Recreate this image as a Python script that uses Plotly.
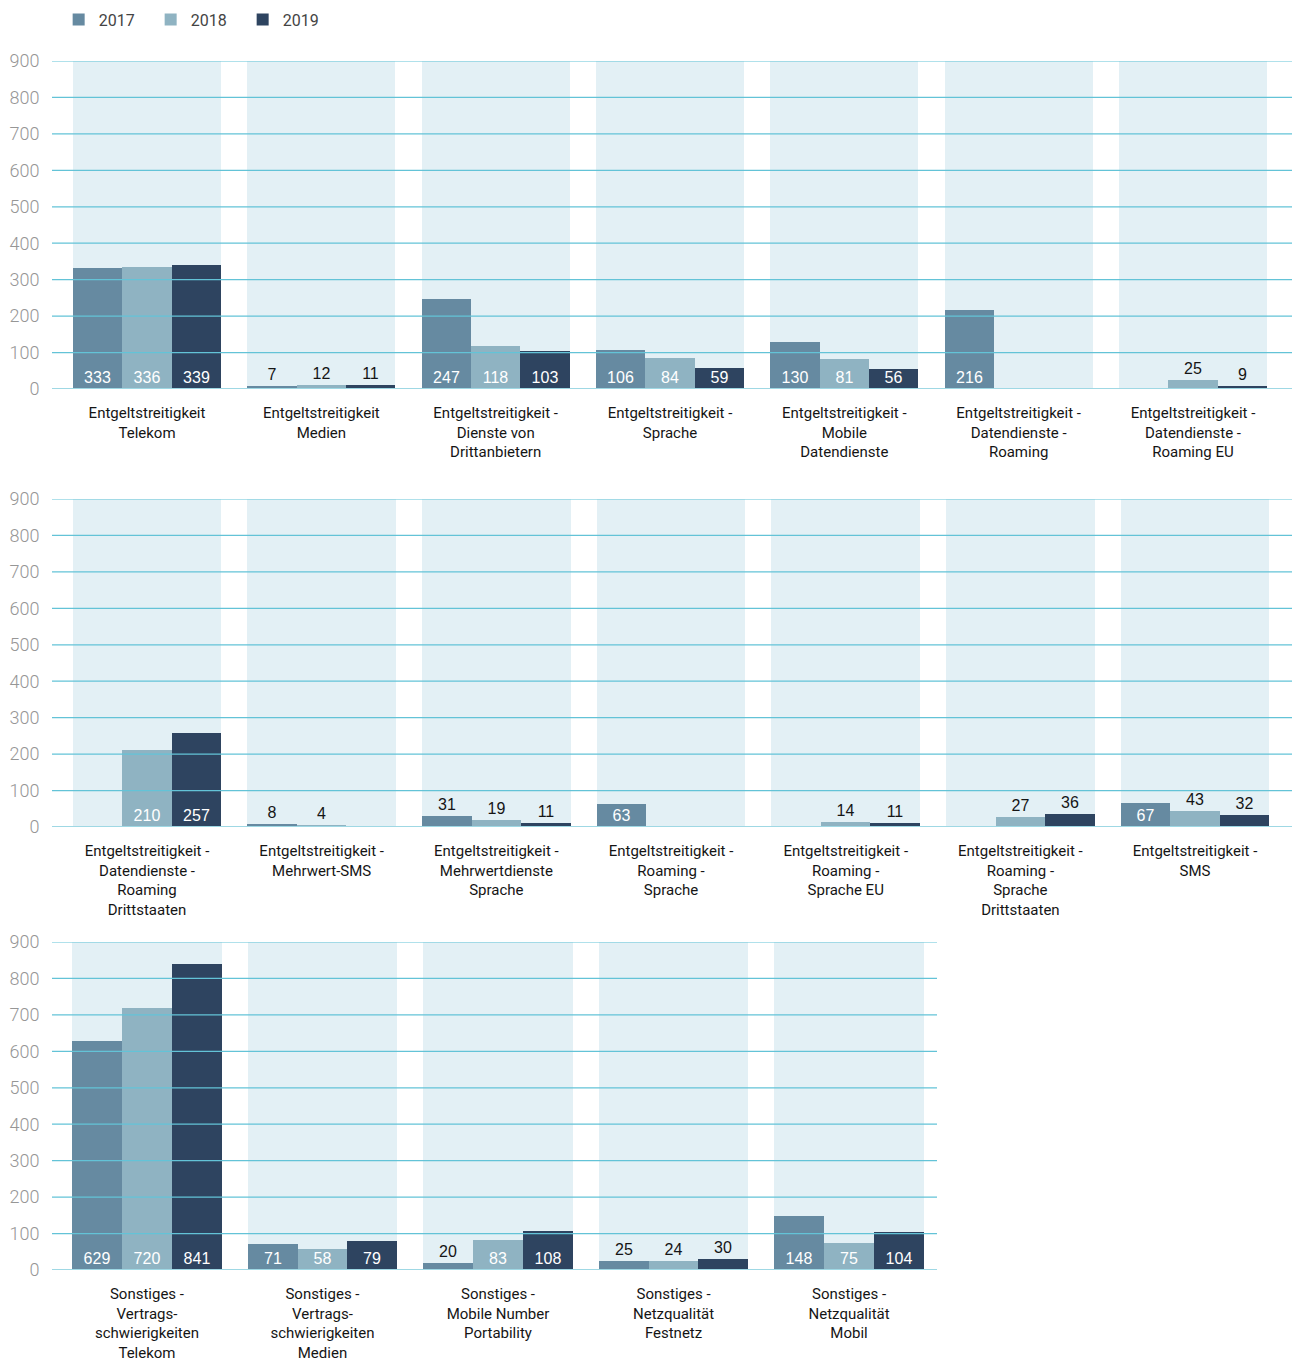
import plotly.graph_objects as go

# ---------------- data ----------------
YEARS = ["2017", "2018", "2019"]

ROW1_LABELS = [
    "Entgeltstreitigkeit<br>Telekom",
    "Entgeltstreitigkeit<br>Medien",
    "Entgeltstreitigkeit -<br>Dienste von<br>Drittanbietern",
    "Entgeltstreitigkeit -<br>Sprache",
    "Entgeltstreitigkeit -<br>Mobile<br>Datendienste",
    "Entgeltstreitigkeit -<br>Datendienste -<br>Roaming",
    "Entgeltstreitigkeit -<br>Datendienste -<br>Roaming EU",
]
ROW1_2017 = [333, 7, 247, 106, 130, 216, None]
ROW1_2018 = [336, 12, 118, 84, 81, None, 25]
ROW1_2019 = [339, 11, 103, 59, 56, None, 9]

ROW2_LABELS = [
    "Entgeltstreitigkeit -<br>Datendienste -<br>Roaming<br>Drittstaaten",
    "Entgeltstreitigkeit -<br>Mehrwert-SMS",
    "Entgeltstreitigkeit -<br>Mehrwertdienste<br>Sprache",
    "Entgeltstreitigkeit -<br>Roaming -<br>Sprache",
    "Entgeltstreitigkeit -<br>Roaming -<br>Sprache EU",
    "Entgeltstreitigkeit -<br>Roaming -<br>Sprache<br>Drittstaaten",
    "Entgeltstreitigkeit -<br>SMS",
]
ROW2_2017 = [None, 8, 31, 63, None, None, 67]
ROW2_2018 = [210, 4, 19, None, 14, 27, 43]
ROW2_2019 = [257, None, 11, None, 11, 36, 32]

ROW3_LABELS = [
    "Sonstiges -<br>Vertrags-<br>schwierigkeiten<br>Telekom",
    "Sonstiges -<br>Vertrags-<br>schwierigkeiten<br>Medien",
    "Sonstiges -<br>Mobile Number<br>Portability",
    "Sonstiges -<br>Netzqualität<br>Festnetz",
    "Sonstiges -<br>Netzqualität<br>Mobil",
]
ROW3_2017 = [629, 71, 20, 25, 148]
ROW3_2018 = [720, 58, 83, 24, 75]
ROW3_2019 = [841, 79, 108, 30, 104]

Y_TICKS = [0, 100, 200, 300, 400, 500, 600, 700, 800, 900]
Y_MAX = 900

# ---------------- style ----------------
W, H = 1292, 1361
COLORS = ["#668aa1", "#8fb3c2", "#2e4460"]
BAND = "#e3f0f5"
GRID = "#63c3d7"
BASE = "#9fd8e4"
GROUP = 0.85
BW = GROUP / 3
INSIDE_MIN = 50

CAT_FONT = dict(family="Roboto, Liberation Sans, sans-serif", size=15, color="#151515")
NUM_FONT = "Liberation Sans, Arial, sans-serif"

rows = [
    dict(labels=ROW1_LABELS, vals=[ROW1_2017, ROW1_2018, ROW1_2019],
         ydom=[1 - 389 / H, 1 - 61 / H], xdom=[52 / W, 1.0], xr=[-0.545, 6.568]),
    dict(labels=ROW2_LABELS, vals=[ROW2_2017, ROW2_2018, ROW2_2019],
         ydom=[1 - 827 / H, 1 - 499 / H], xdom=[52 / W, 1.0], xr=[-0.544, 6.555]),
    dict(labels=ROW3_LABELS, vals=[ROW3_2017, ROW3_2018, ROW3_2019],
         ydom=[1 - 1270 / H, 1 - 942 / H], xdom=[52 / W, 937 / W], xr=[-0.541, 4.501]),
]

fig = go.Figure()
shapes = []
layout_axes = {}

for r, row in enumerate(rows):
    n = r + 1
    xa = "x" if n == 1 else f"x{n}"
    ya = "y" if n == 1 else f"y{n}"
    idx = list(range(len(row["labels"])))

    # light background band per category
    fig.add_trace(go.Bar(
        x=idx, y=[Y_MAX] * len(idx), width=GROUP, offset=-GROUP / 2,
        marker=dict(color=BAND, line=dict(width=0)), showlegend=False,
        hoverinfo="skip", xaxis=xa, yaxis=ya,
    ))

    for k, (year, vals) in enumerate(zip(YEARS, row["vals"])):
        texts = ["" if v is None else str(v) for v in vals]
        pos = ["inside" if (v is not None and v >= INSIDE_MIN) else "outside" for v in vals]
        fig.add_trace(go.Bar(
            x=idx, y=vals, name=year, legendgroup=year, showlegend=(r == 0),
            width=BW, offset=-GROUP / 2 + k * BW,
            marker=dict(color=COLORS[k], line=dict(width=0)),
            text=texts, textposition=pos, insidetextanchor="start",
            textangle=0, constraintext="none", cliponaxis=False,
            insidetextfont=dict(family=NUM_FONT, size=16, color="white"),
            outsidetextfont=dict(family=NUM_FONT, size=16, color="#151515"),
            xaxis=xa, yaxis=ya,
        ))

    xkey = "xaxis" if n == 1 else f"xaxis{n}"
    ykey = "yaxis" if n == 1 else f"yaxis{n}"
    layout_axes[xkey] = dict(
        domain=row["xdom"], range=row["xr"], anchor=ya,
        tickmode="array", tickvals=idx, ticktext=row["labels"],
        showgrid=False, zeroline=False, showline=False,
        ticks="outside", ticklen=10, tickcolor="rgba(0,0,0,0)",
        tickfont=CAT_FONT, fixedrange=True, automargin=False,
    )
    layout_axes[ykey] = dict(
        domain=row["ydom"], range=[0, Y_MAX], anchor=xa,
        tickmode="array", tickvals=Y_TICKS,
        showgrid=False, zeroline=False, showline=False,
        ticks="outside", ticklen=8, tickcolor="rgba(0,0,0,0)",
        tickfont=dict(family="Roboto, Liberation Sans, sans-serif", size=18,
                      color="#969696", weight=300),
        fixedrange=True, automargin=False,
    )

    for t in Y_TICKS:
        shapes.append(dict(
            type="line", xref=f"{xa} domain", x0=0, x1=1, yref=ya, y0=t, y1=t,
            layer="above",
            line=dict(color=BASE if t == 0 else GRID, width=2 if t == 0 else 1.2),
        ))

fig.update_layout(
    width=W, height=H,
    margin=dict(l=0, r=0, t=0, b=0),
    paper_bgcolor="white", plot_bgcolor="rgba(0,0,0,0)",
    barmode="overlay", bargap=0,
    shapes=shapes,
    showlegend=True,
    legend=dict(orientation="h", x=0.0454, y=0.998, xanchor="left", yanchor="top",
                font=dict(family="Roboto, Liberation Sans, sans-serif", size=16,
                          color="#444444"),
                entrywidth=47, entrywidthmode="pixels", traceorder="normal",
                bgcolor="rgba(0,0,0,0)"),
    **layout_axes,
)

fig.write_html("out.html")
